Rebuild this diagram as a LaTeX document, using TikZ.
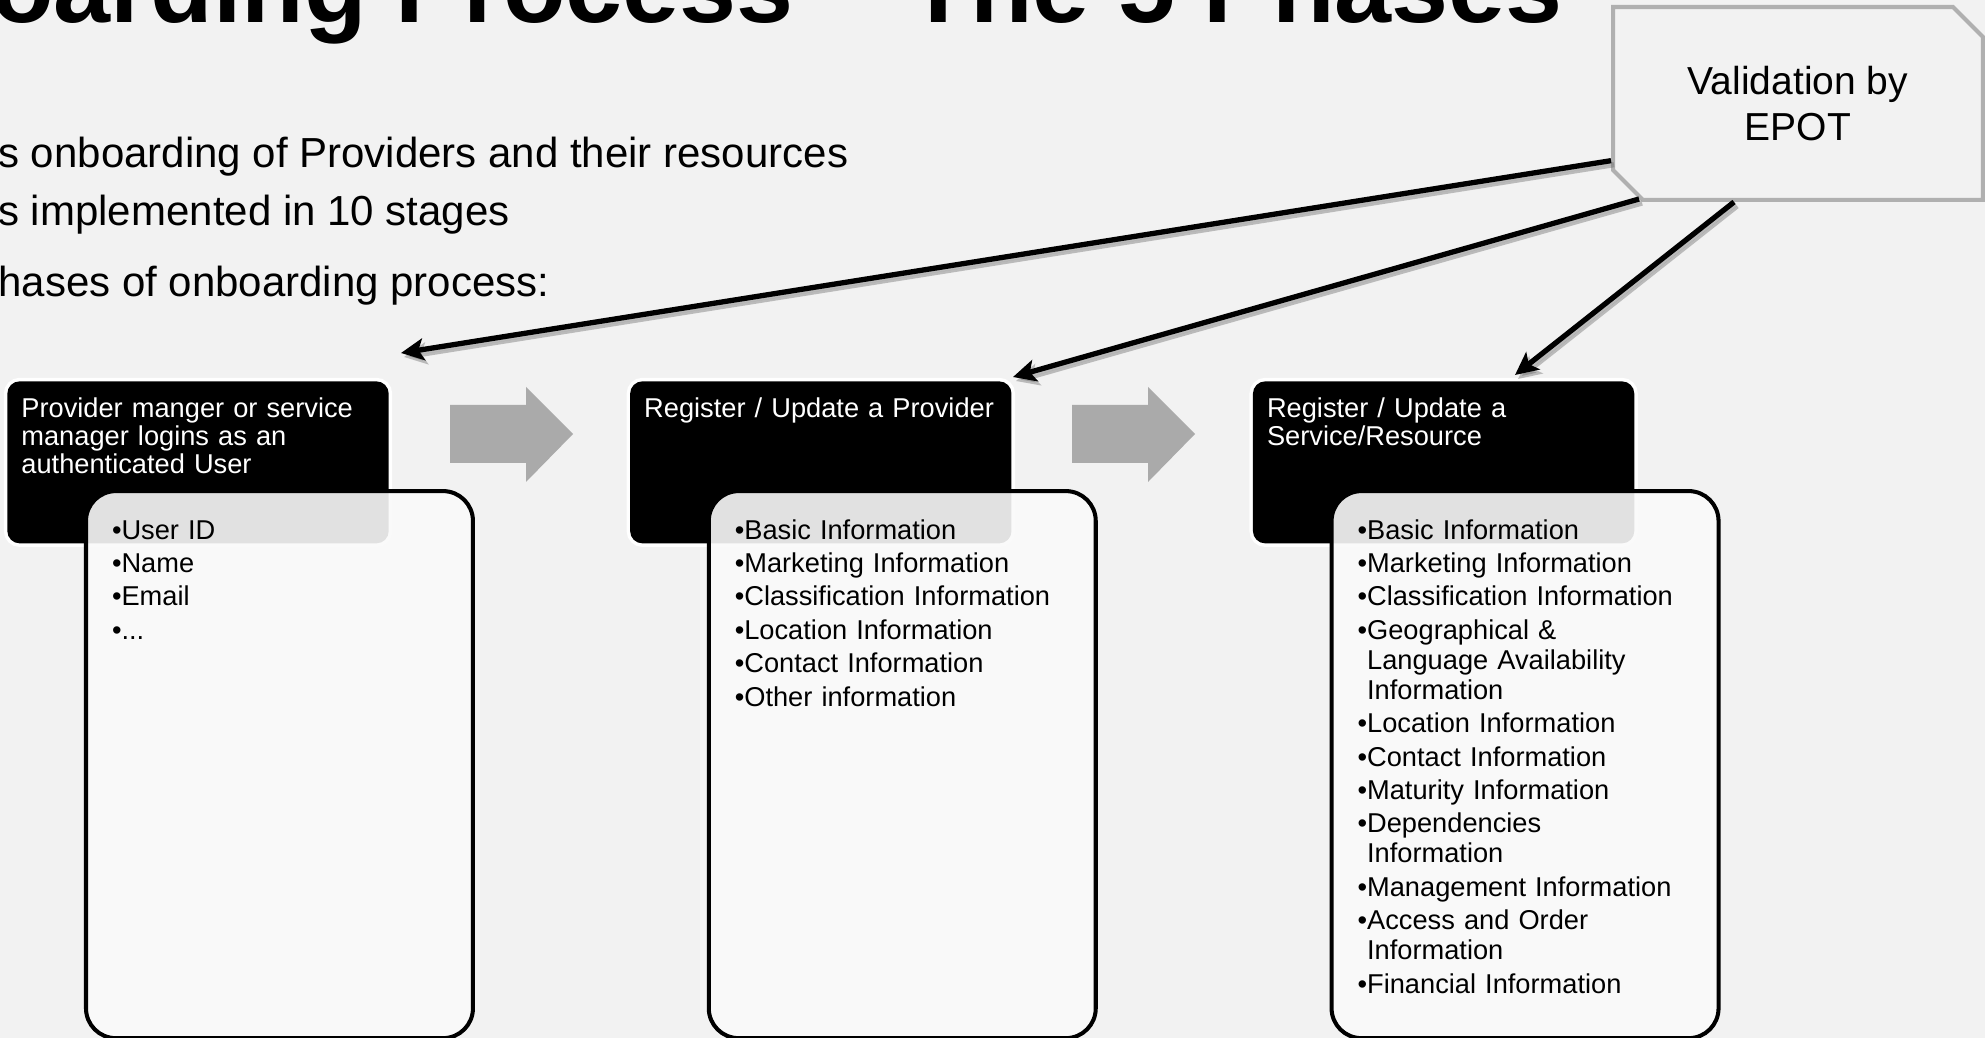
\documentclass[tikz,border=0pt]{standalone}
\usepackage{fontspec}
\setmainfont{Liberation Sans}
\usetikzlibrary{positioning,arrows.meta,shapes.misc}

\definecolor{slidebg}{HTML}{F2F2F2}
\definecolor{stepgray}{HTML}{AAAAAA}
\definecolor{epotgray}{HTML}{B0B0B0}
\definecolor{listfill}{HTML}{FAFAFA}

% one bullet entry, wrapped lines hang under the text
\newcommand{\bitem}[1]{\hangindent=0.35em\hangafter=1\textbullet#1\par\vspace{1.9pt}}

\tikzset{
	phasehead/.style={preaction={draw=white, line width=4pt}, fill=black, rounded corners=7pt,
		text=white, align=left, text width=201pt, inner xsep=8pt, inner ysep=9.2pt,
		text height=11.3pt, text depth=62.5pt, font=\fontsize{15.5pt}{16pt}\selectfont},
	phaselist/.style={draw=black, line width=2.3pt, fill=listfill, fill opacity=.9, text opacity=1,
		rounded corners=17pt, align=left, text width=190.6pt, inner xsep=14.8pt, inner ysep=16pt,
		text height=11.3pt, text depth=268pt, font=\fontsize{15.5pt}{17.1pt}\selectfont},
	epotbox/.style={chamfered rectangle, chamfered rectangle corners={north east,south west},
		chamfered rectangle xsep=8pt, chamfered rectangle ysep=9pt,
		draw=epotgray, line width=2.3pt, fill=slidebg, minimum width=210.5pt, minimum height=109.8pt,
		align=center, font=\fontsize{22.2pt}{26.2pt}\selectfont},
	validate/.style={line width=3pt, -{Stealth[length=13pt,width=12.5pt,inset=3pt]}},
	validateshadow/.style={validate, draw=black!60, fill=black!60, opacity=.4,
		transform canvas={shift={(3,4)}}},
	stepgap/.style={fill=stepgray},
	slidetext/.style={anchor=base west, inner sep=0pt, font=\fontsize{23.9pt}{26pt}\selectfont}
}

\begin{document}
\begin{tikzpicture}[x=0.2mm, y=-0.2mm]
	\clip (0,0) rectangle (1985,1038);
	\fill[slidebg] (0,0) rectangle (1985,1038);

	% heading and intro lines
	\node[anchor=base east, inner sep=0pt, font=\bfseries\fontsize{58.3pt}{60pt}\selectfont] (title) at (1563,23) {oarding Process – The 5 Phases};
	\node[slidetext] (intro1) at (-2,168) {s onboarding of Providers and their resources};
	\node[slidetext] (intro2) at (-2,226) {s implemented in 10 stages};
	\node[slidetext] (intro3) at (-2,297) {hases of onboarding process:};

	% the three phases
	\node[phasehead, anchor=north west] (b1) at (7,381) {Provider manger or service\\manager logins as an\\authenticated User};
	\node[phasehead, right=137pt of b1] (b2) {Register / Update a Provider};
	\node[phasehead, right=137pt of b2] (b3) {Register / Update a\\Service/Resource};

	\node[phaselist, below right=61.5pt and 43.8pt of b1.north west] (w1) {%
		\bitem{User ID}\bitem{Name}\bitem{Email}\bitem{...}};
	\node[phaselist, below right=61.5pt and 43.8pt of b2.north west] (w2) {%
		\bitem{Basic Information}\bitem{Marketing Information}\bitem{Classification Information}%
		\bitem{Location Information}\bitem{Contact Information}\bitem{Other information}};
	\node[phaselist, below right=61.5pt and 43.8pt of b3.north west] (w3) {%
		\bitem{Basic Information}\bitem{Marketing Information}\bitem{Classification Information}%
		\bitem{Geographical \&\newline Language Availability\newline Information}%
		\bitem{Location Information}\bitem{Contact Information}\bitem{Maturity Information}%
		\bitem{Dependencies\newline Information}\bitem{Management Information}%
		\bitem{Access and Order\newline Information}\bitem{Financial Information}};

	% block arrows between phases
	\foreach \dx in {0,622}
		\fill[stepgap] (450+\dx,405) -- (526+\dx,405) -- (526+\dx,387) -- (573+\dx,434)
			-- (526+\dx,482) -- (526+\dx,463) -- (450+\dx,463) -- cycle;

	% validation
	\node[epotbox] (epot) at (1798,103.5) {Validation by\\EPOT};
	\coordinate (tip1) at (401,353);
	\coordinate (tip2) at (1013,377);
	\coordinate (tip3) at (1515,375);
	\foreach \from/\to in {197/tip1, 211/tip2, 237/tip3} {
		\draw[validateshadow] (epot.\from) -- (\to);
		\draw[validate] (epot.\from) -- (\to);
	}
\end{tikzpicture}
\end{document}
